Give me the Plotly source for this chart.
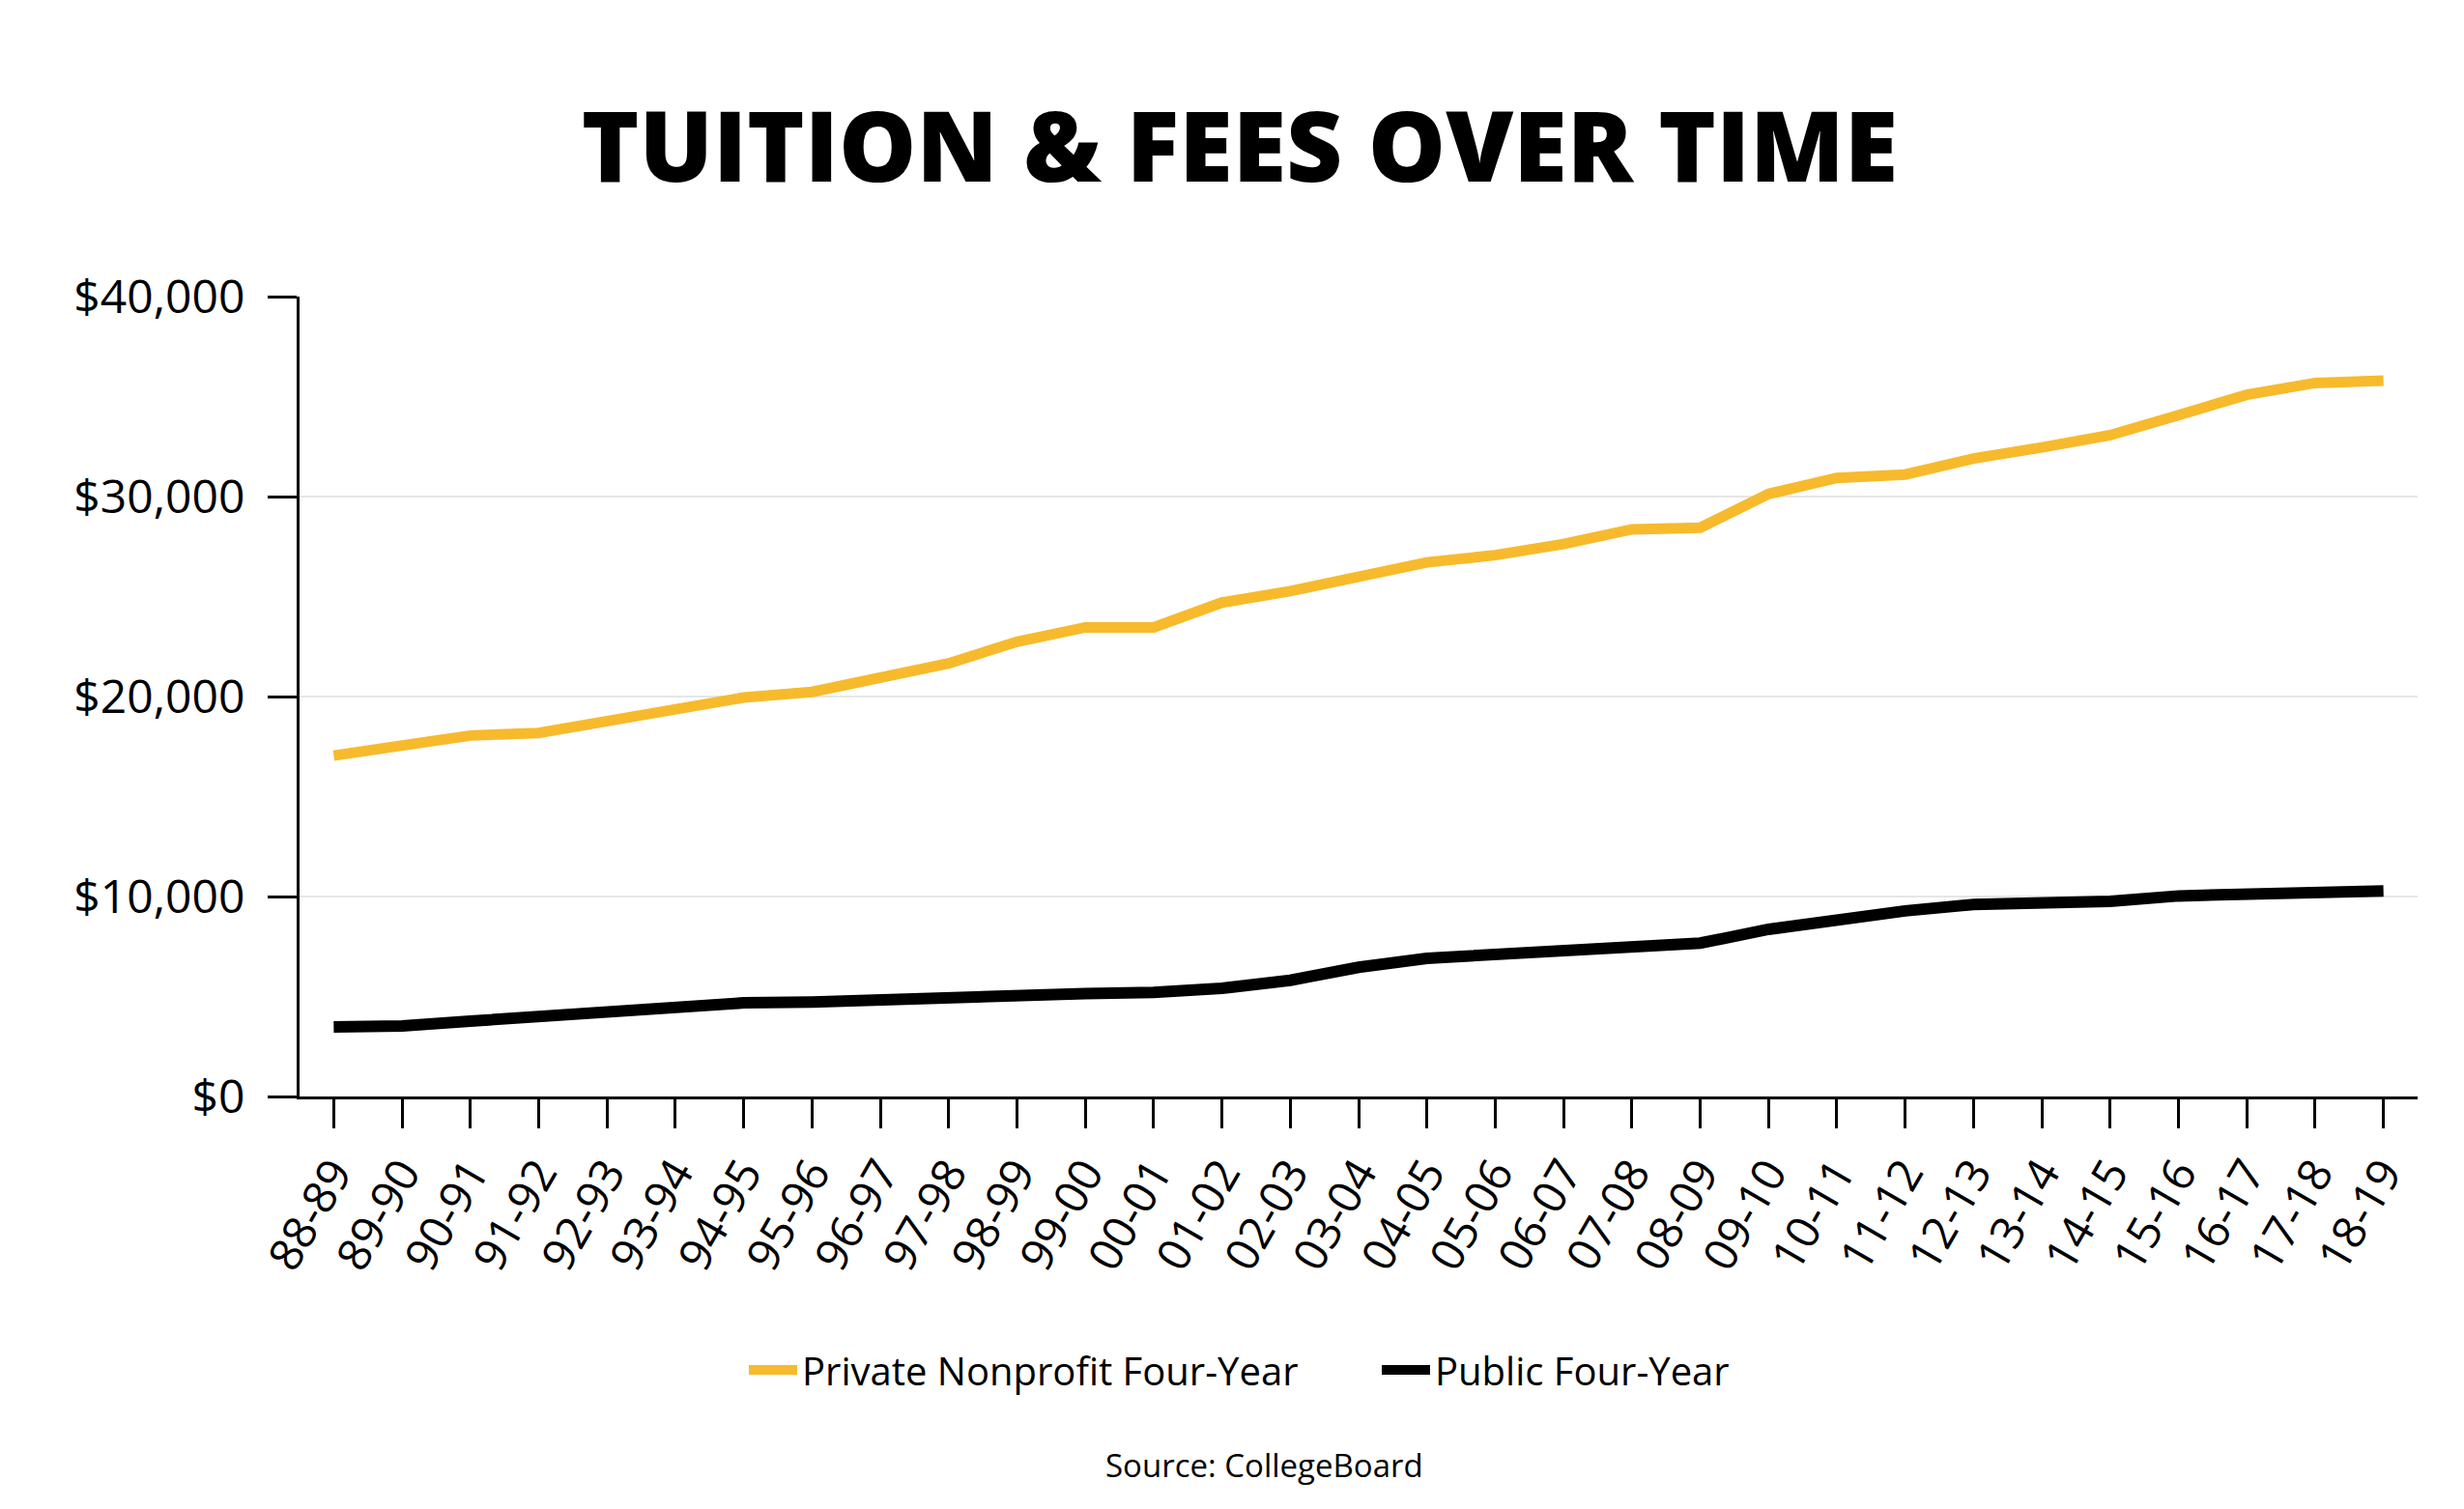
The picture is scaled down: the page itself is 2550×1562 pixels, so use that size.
import plotly.graph_objects as go

years = ["88-89", "89-90", "90-91", "91-92", "92-93", "93-94", "94-95", "95-96",
         "96-97", "97-98", "98-99", "99-00", "00-01", "01-02", "02-03", "03-04",
         "04-05", "05-06", "06-07", "07-08", "08-09", "09-10", "10-11", "11-12",
         "12-13", "13-14", "14-15", "15-16", "16-17", "17-18", "18-19"]

private_nonprofit = [17050, 17540, 18050, 18180, 18780, 19260, 19950, 20230,
                     20920, 21660, 22740, 23460, 23460, 24700, 25270, 25980,
                     26710, 27070, 27630, 28360, 28440, 30130, 30930, 31100,
                     31900, 32460, 33070, 34070, 35090, 35680, 35800]

public_four_year = [3480, 3530, 3770, 4000, 4280, 4520, 4680, 4720,
                    4850, 4960, 5090, 5150, 5200, 5410, 5810, 6460,
                    6910, 7130, 7230, 7500, 7670, 8360, 8870, 9280,
                    9600, 9680, 9760, 10030, 10160, 10290, 10280]

font = "Open Sans"

fig = go.Figure()
fig.add_trace(go.Scatter(x=years, y=private_nonprofit, mode="lines",
                         name="Private Nonprofit Four-Year",
                         line=dict(color="#F7BA2C", width=11)))
fig.add_trace(go.Scatter(x=years, y=public_four_year, mode="lines",
                         name="Public Four-Year",
                         line=dict(color="#000000", width=12)))

fig.update_layout(
    width=2550, height=1562,
    paper_bgcolor="white", plot_bgcolor="white",
    margin=dict(l=302, r=56, t=299, b=435),
    font=dict(family=font, color="#000000"),
    title=dict(text="TUITION & FEES OVER TIME", x=0.5, xref="container", xanchor="center",
               y=1 - 145 / 1562, yref="container", yanchor="middle",
               font=dict(family=font, size=101, weight=800, color="#000000")),
    showlegend=True,
    legend=dict(orientation="h", x=0.5 + 142 / 2550, xanchor="center", xref="container",
                y=1 - 1410 / 1562, yref="container", yanchor="middle",
                font=dict(size=40), itemwidth=50, entrywidth=590),
    annotations=[dict(text="Source: CollegeBoard", xref="paper", yref="paper",
                      x=(1300 - 302) / 2192, y=(1127 - 1508) / 828,
                      xanchor="center", yanchor="middle",
                      showarrow=False, font=dict(size=33))],
)

fig.update_xaxes(type="category", range=[-0.5, 30.5], showgrid=False,
                 showline=True, linecolor="#000000", linewidth=3,
                 ticks="outside", ticklen=30, tickwidth=3, tickcolor="#000000",
                 tickangle=-60, tickfont=dict(size=47))
fig.update_yaxes(range=[0, 40000], dtick=10000, tickprefix="$", tickformat=",d",
                 showgrid=True, gridcolor="#E6E6E6", gridwidth=2, zeroline=False,
                 showline=True, linecolor="#000000", linewidth=3,
                 ticks="outside", ticklen=30, tickwidth=3, tickcolor="#000000",
                 ticklabelstandoff=14, tickfont=dict(size=48))

fig.write_html("out.html")
